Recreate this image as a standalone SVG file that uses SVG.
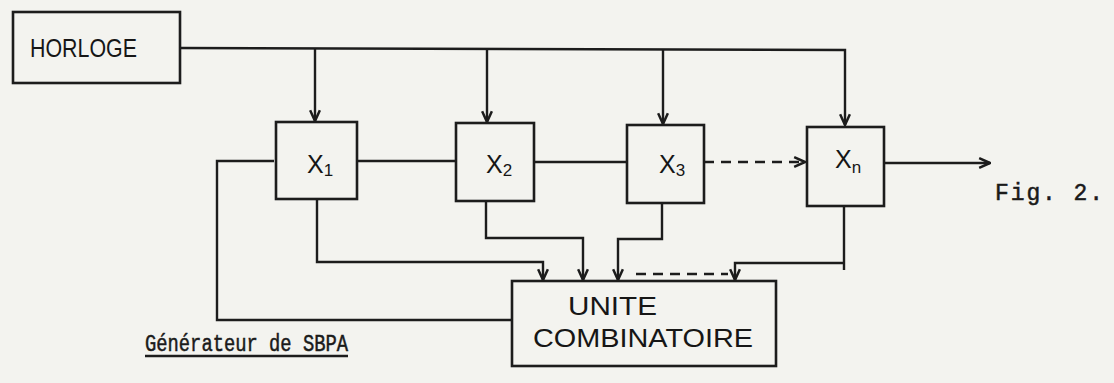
<svg xmlns="http://www.w3.org/2000/svg" width="1114" height="383" viewBox="0 0 1114 383">
<defs>
<marker id="arr" viewBox="0 0 12 12" refX="11" refY="6" markerWidth="13" markerHeight="13" markerUnits="userSpaceOnUse" orient="auto">
<path d="M1,1.5 L11,6 L1,10.5" fill="none" stroke="#1c1c1c" stroke-width="2.3"/>
</marker>
</defs>
<style>
.box{fill:none;stroke:#1c1c1c;stroke-width:2.6}
.ln{fill:none;stroke:#1c1c1c;stroke-width:2.4}
.dash{stroke-dasharray:10 7}
.hand{font-family:"Liberation Sans",Arial,sans-serif;fill:#161616}
.type{font-family:"Liberation Mono","Courier New",monospace;fill:#1a1a1a;stroke:#1a1a1a;stroke-width:0.5}
</style>
<rect width="1114" height="383" fill="#f3f3ef"/>
<g id="horloge">
<rect class="box" x="13" y="12" width="167" height="71"/>
<text class="hand" x="30" y="57" font-size="25" textLength="107" lengthAdjust="spacingAndGlyphs">HORLOGE</text>
</g>
<g id="x1">
<rect class="box" x="276" y="122" width="81" height="77"/>
<text class="hand" x="307" y="173" font-size="25">X<tspan font-size="17" dy="3">1</tspan></text>
</g>
<g id="x2">
<rect class="box" x="456" y="123" width="78" height="78"/>
<text class="hand" x="486" y="173" font-size="25">X<tspan font-size="17" dy="3">2</tspan></text>
</g>
<g id="x3">
<rect class="box" x="627" y="125" width="77" height="78"/>
<text class="hand" x="659" y="173" font-size="25">X<tspan font-size="17" dy="3">3</tspan></text>
</g>
<g id="xn">
<rect class="box" x="807" y="127" width="77" height="79"/>
<text class="hand" x="835" y="168" font-size="25">X<tspan font-size="17" dy="5">n</tspan></text>
</g>
<g id="unite">
<rect class="box" x="512" y="281" width="264" height="85"/>
<text class="hand" x="568" y="315" font-size="26" textLength="89" lengthAdjust="spacingAndGlyphs">UNITE</text>
<text class="hand" x="533" y="347" font-size="26" textLength="220" lengthAdjust="spacingAndGlyphs">COMBINATOIRE</text>
</g>
<g id="connectors">
<path class="ln" d="M180,48 L845,50 L845,125" marker-end="url(#arr)"/>
<path class="ln" d="M315,48 L315,121" marker-end="url(#arr)"/>
<path class="ln" d="M487,49 L487,122" marker-end="url(#arr)"/>
<path class="ln" d="M663,49 L663,124" marker-end="url(#arr)"/>
<path class="ln" d="M357,161 L456,161"/>
<path class="ln" d="M534,162 L627,162"/>
<path class="ln dash" d="M704,162 L805,162" marker-end="url(#arr)"/>
<path class="ln" d="M884,163 L990,163" marker-end="url(#arr)"/>
<path class="ln" d="M274,161 L217,161 L217,320 L512,320"/>
<path class="ln" d="M317,199 L317,262 L543,262 L543,280" marker-end="url(#arr)"/>
<path class="ln" d="M486,201 L486,238 L583,238 L583,280" marker-end="url(#arr)"/>
<path class="ln" d="M662,203 L662,239 L618,239 L618,280" marker-end="url(#arr)"/>
<path class="ln" d="M844,206 L844,270"/>
<path class="ln" d="M844,263 L735,263 L735,280" marker-end="url(#arr)"/>
<path class="ln dash" d="M636,274 L728,274"/>
</g>
<g id="labels">
<text class="type" x="995" y="200" font-size="23" textLength="108" lengthAdjust="spacing">Fig. 2.</text>
<text class="type" x="145" y="351" font-size="23" textLength="203" lengthAdjust="spacingAndGlyphs">Générateur de SBPA</text>
<line class="ln" x1="145" y1="356" x2="348" y2="356" stroke-width="2"/>
</g>
</svg>
